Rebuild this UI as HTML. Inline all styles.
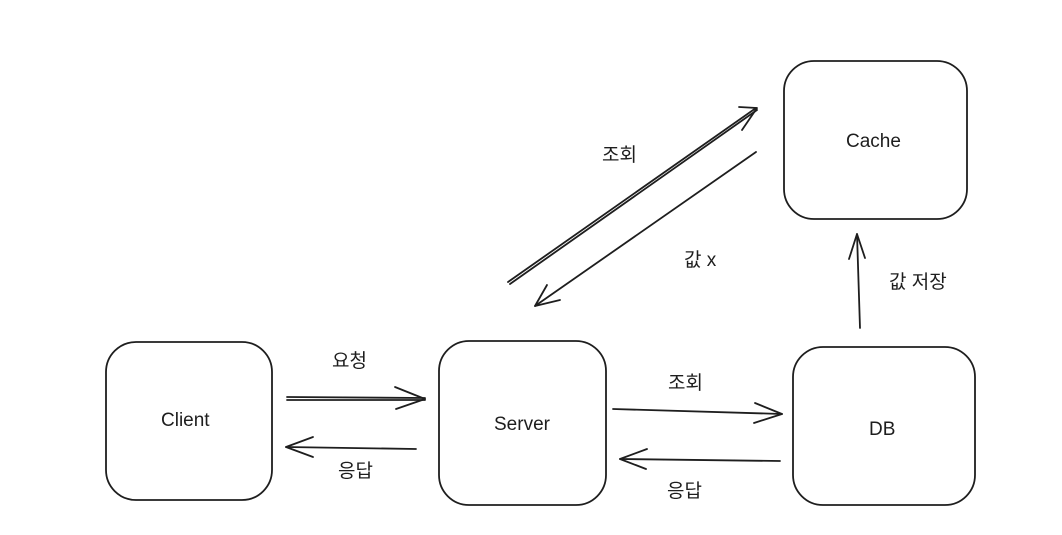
<!DOCTYPE html>
<html><head><meta charset="utf-8"><style>
html,body{margin:0;padding:0;background:#fff;}
svg{display:block;}
text{font-family:"Liberation Sans","Noto Sans CJK KR",sans-serif;font-size:19px;fill:#1e1e1e;}
</style></head><body>
<svg width="1062" height="535" viewBox="0 0 1062 535" xmlns="http://www.w3.org/2000/svg">
<g fill="none" stroke="#1e1e1e" stroke-width="1.8" stroke-linecap="round" stroke-linejoin="round">
<rect x="106" y="342" width="166" height="158" rx="30"/>
<rect x="439" y="341" width="167" height="164" rx="30"/>
<rect x="793" y="347" width="182" height="158" rx="30"/>
<rect x="784" y="61" width="183" height="158" rx="30"/>
<path d="M287 397 L425 398 M287 400 L425 400"/>
<path d="M395 387 L425 399 L396 409"/>
<path d="M286 447 L416 449"/>
<path d="M313 437 L286 447 L313 457"/>
<path d="M613 409 L782 414"/>
<path d="M755 403 L782 414 L754 423"/>
<path d="M780 461 L620 459"/>
<path d="M647 449 L620 459 L646 469"/>
<path d="M860 328 L857 234"/>
<path d="M849 259 L857 234 L865 258"/>
<path d="M508 282 L756 108 M510 284 L757 110"/>
<path d="M739 107 L757 108 L742 130"/>
<path d="M756 152 L535 306"/>
<path d="M547 285 L535 306 L560 300"/>
</g>
<text x="161" y="426">Client</text>
<text x="494" y="430">Server</text>
<text x="869" y="435">DB</text>
<text x="846" y="147">Cache</text>
<text x="332" y="367">요청</text>
<text x="338" y="477">응답</text>
<text x="668" y="389">조회</text>
<text x="667" y="497">응답</text>
<text x="602" y="161">조회</text>
<text x="684" y="266">값 x</text>
<text x="889" y="288">값 저장</text>
</svg>
</body></html>
